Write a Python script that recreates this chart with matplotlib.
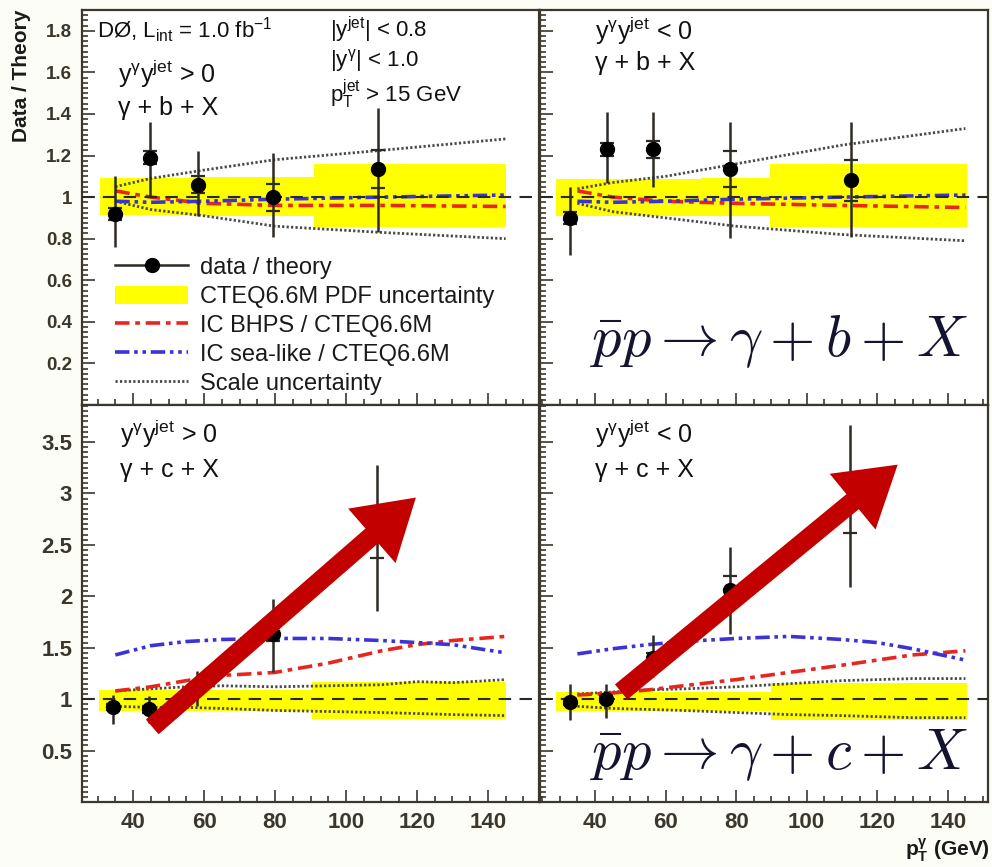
import matplotlib
matplotlib.use('Agg')
import matplotlib.pyplot as plt
from matplotlib.patches import FancyArrowPatch, Patch, ArrowStyle
from matplotlib.lines import Line2D
from matplotlib.ticker import MultipleLocator, FuncFormatter

plt.rcParams['font.family'] = ['Liberation Sans', 'DejaVu Sans']
plt.rcParams['mathtext.fontset'] = 'custom'
plt.rcParams['mathtext.rm'] = 'Liberation Sans'
plt.rcParams['mathtext.it'] = 'Liberation Sans:italic'
plt.rcParams['mathtext.bf'] = 'Liberation Sans:bold'

# ---------------- data ----------------
# gamma + b + X, y^g y^jet > 0
b_pos_x = [34.9, 44.8, 58.2, 79.5, 109.0]
b_pos_y = [0.92, 1.19, 1.06, 1.00, 1.135]
b_pos_lo = [0.16, 0.19, 0.15, 0.19, 0.305]
b_pos_hi = [0.18, 0.17, 0.16, 0.21, 0.295]
b_pos_stat = [0.03, 0.03, 0.04, 0.065, 0.09]
# gamma + b + X, y^g y^jet < 0
b_neg_x = [32.9, 43.4, 56.5, 78.4, 112.7]
b_neg_y = [0.90, 1.23, 1.23, 1.135, 1.08]
b_neg_lo = [0.18, 0.16, 0.18, 0.33, 0.27]
b_neg_hi = [0.15, 0.18, 0.18, 0.225, 0.28]
b_neg_stat = [0.03, 0.03, 0.04, 0.085, 0.10]
# gamma + c + X, y^g y^jet > 0
c_pos_x = [34.4, 44.5, 58.0, 79.3, 108.7]
c_pos_y = [0.92, 0.90, 1.10, 1.63, 2.60]
c_pos_lo = [0.16, 0.13, 0.17, 0.37, 0.74]
c_pos_hi = [0.12, 0.13, 0.17, 0.34, 0.68]
c_pos_stat = [0.03, 0.03, 0.05, 0.06, 0.23]
# gamma + c + X, y^g y^jet < 0
c_neg_x = [32.9, 43.2, 56.5, 78.2, 112.4]
c_neg_y = [0.97, 1.00, 1.40, 2.06, 2.90]
c_neg_lo = [0.17, 0.18, 0.18, 0.43, 0.81]
c_neg_hi = [0.18, 0.15, 0.22, 0.42, 0.77]
c_neg_stat = [0.03, 0.03, 0.05, 0.14, 0.28]

# theory curves
pt_b = [35, 45, 60, 80, 110, 145]
b_pos_scale_hi = [1.05, 1.09, 1.13, 1.18, 1.225, 1.28]
b_pos_scale_lo = [0.98, 0.94, 0.91, 0.86, 0.83, 0.80]
b_pos_bhps = [1.03, 1.00, 0.97, 0.96, 0.96, 0.955]
b_pos_sea = [0.98, 0.975, 0.98, 0.99, 1.00, 1.01]
b_neg_scale_hi = [1.04, 1.07, 1.10, 1.16, 1.25, 1.33]
b_neg_scale_lo = [0.97, 0.93, 0.90, 0.86, 0.82, 0.79]
b_neg_bhps = [1.03, 1.00, 0.98, 0.97, 0.96, 0.95]
b_neg_sea = [0.98, 0.975, 0.98, 0.99, 1.00, 1.01]

pt_c = [35, 45, 55, 65, 80, 95, 110, 120, 130, 145]
c_pos_sea = [1.43, 1.52, 1.56, 1.58, 1.59, 1.59, 1.57, 1.55, 1.53, 1.45]
c_pos_bhps = [1.08, 1.12, 1.18, 1.23, 1.26, 1.35, 1.47, 1.53, 1.57, 1.61]
c_pos_scale_hi = [1.08, 1.10, 1.12, 1.13, 1.12, 1.13, 1.14, 1.17, 1.16, 1.19]
c_pos_scale_lo = [0.93, 0.92, 0.92, 0.91, 0.89, 0.88, 0.87, 0.86, 0.85, 0.84]
c_neg_sea = [1.44, 1.49, 1.53, 1.56, 1.59, 1.61, 1.58, 1.55, 1.49, 1.38]
c_neg_bhps = [1.04, 1.06, 1.09, 1.13, 1.19, 1.26, 1.33, 1.38, 1.43, 1.47]
c_neg_scale_hi = [1.05, 1.07, 1.09, 1.10, 1.12, 1.15, 1.18, 1.19, 1.20, 1.20]
c_neg_scale_lo = [0.93, 0.91, 0.90, 0.89, 0.87, 0.85, 0.84, 0.83, 0.82, 0.82]

# PDF uncertainty bands (bin edges, low, high)
b_pos_pdf_edges = [30.7, 57, 91, 145.1]
b_pos_pdf_lo = [0.915, 0.91, 0.855]
b_pos_pdf_hi = [1.09, 1.095, 1.16]
b_neg_pdf_edges = [28.9, 70, 89.5, 145.4]
b_neg_pdf_lo = [0.91, 0.91, 0.855]
b_neg_pdf_hi = [1.087, 1.09, 1.16]
c_pos_pdf_edges = [30.5, 90.5, 145.1]
c_pos_pdf_lo = [0.88, 0.81]
c_pos_pdf_hi = [1.09, 1.165]
c_neg_pdf_edges = [28.9, 90, 145.4]
c_neg_pdf_lo = [0.88, 0.80]
c_neg_pdf_hi = [1.07, 1.155]

# red annotation arrows (tail, tip) in data coordinates
c_pos_arrow = [(45.4, 0.73), (119.7, 2.96)]
c_neg_arrow = [(47.4, 1.07), (125.8, 3.28)]

legend_labels = ['data / theory', 'CTEQ6.6M PDF uncertainty', 'IC BHPS / CTEQ6.6M',
                 'IC sea-like / CTEQ6.6M', 'Scale uncertainty']

# ---------------- style ----------------
YELLOW = '#ffff00'
RED = '#e8261e'
BLUE = '#3b33d6'
SCALE = '#4a4a44'
FRAME = '#3b372c'
ERR = '#2e2b24'
RED_LS = (0, (4, 1.6, 1.3, 1.6))
BLUE_LS = (0, (4, 1.3, 1.0, 1.3, 1.0, 1.3))
SCALE_LS = (0, (0.8, 0.8))

W, H = 992, 867
fig = plt.figure(figsize=(W / 100, H / 100), dpi=100, facecolor='#fdfdf7')


def rect(l, r, t, b):
    return [l / W, 1 - b / H, (r - l) / W, (b - t) / H]


axTL = fig.add_axes(rect(82, 539, 10, 405))
axTR = fig.add_axes(rect(540, 988, 10, 405))
axBL = fig.add_axes(rect(82, 539, 405, 802))
axBR = fig.add_axes(rect(540, 988, 405, 802))

panels = [
    (axTL, b_pos_x, b_pos_y, b_pos_lo, b_pos_hi, b_pos_stat, pt_b, b_pos_scale_hi, b_pos_scale_lo,
     b_pos_bhps, b_pos_sea, b_pos_pdf_edges, b_pos_pdf_lo, b_pos_pdf_hi),
    (axTR, b_neg_x, b_neg_y, b_neg_lo, b_neg_hi, b_neg_stat, pt_b, b_neg_scale_hi, b_neg_scale_lo,
     b_neg_bhps, b_neg_sea, b_neg_pdf_edges, b_neg_pdf_lo, b_neg_pdf_hi),
    (axBL, c_pos_x, c_pos_y, c_pos_lo, c_pos_hi, c_pos_stat, pt_c, c_pos_scale_hi, c_pos_scale_lo,
     c_pos_bhps, c_pos_sea, c_pos_pdf_edges, c_pos_pdf_lo, c_pos_pdf_hi),
    (axBR, c_neg_x, c_neg_y, c_neg_lo, c_neg_hi, c_neg_stat, pt_c, c_neg_scale_hi, c_neg_scale_lo,
     c_neg_bhps, c_neg_sea, c_neg_pdf_edges, c_neg_pdf_lo, c_neg_pdf_hi),
]

fmt = FuncFormatter(lambda v, p: '%g' % round(v, 3))

for (ax, x, y, lo, hi, st, pt, sh, sl, bh, sea, ed, plo, phi) in panels:
    ax.fill_between(ed, plo + [plo[-1]], phi + [phi[-1]], step='post', color=YELLOW, lw=0, zorder=1)
    ax.plot(pt, sh, color=SCALE, lw=2.0, ls=SCALE_LS, zorder=2)
    ax.plot(pt, sl, color=SCALE, lw=2.0, ls=SCALE_LS, zorder=2)
    ax.plot(pt, bh, color=RED, lw=2.6, ls=RED_LS, zorder=3)
    ax.plot(pt, sea, color=BLUE, lw=2.6, ls=BLUE_LS, zorder=3)
    ax.axhline(1.0, color='#2a2a22', lw=1.5, ls=(0, (6, 4)), zorder=4)
    ax.errorbar(x, y, yerr=[lo, hi], fmt='o', color=ERR, mfc='black', mec='black', ms=10,
                elinewidth=1.8, capsize=0, zorder=5)
    ax.errorbar(x, y, yerr=st, fmt='none', ecolor=ERR, elinewidth=0, capsize=5, capthick=1.6, zorder=5)
    for s in ax.spines.values():
        s.set_color(FRAME)
        s.set_linewidth(1.6)
    ax.set_facecolor('white')
    ax.tick_params(which='both', direction='in', top=False, right=False, colors=FRAME, width=1.2)
    ax.tick_params(which='major', length=9)
    ax.tick_params(which='minor', length=4.5)
    ax.xaxis.set_major_locator(MultipleLocator(20))
    ax.xaxis.set_minor_locator(MultipleLocator(5))
    ax.yaxis.set_major_formatter(fmt)
    ax.xaxis.set_major_formatter(fmt)

for ax in (axTL, axBL):
    ax.set_xlim(25.6, 154.4)
for ax in (axTR, axBR):
    ax.set_xlim(24.4, 151.4)
for ax in (axTL, axTR):
    ax.set_ylim(0, 1.9)
    ax.set_yticks([0.2, 0.4, 0.6, 0.8, 1.0, 1.2, 1.4, 1.6, 1.8])
    ax.yaxis.set_minor_locator(MultipleLocator(0.025))
    ax.tick_params(labelbottom=False)
for ax in (axBL, axBR):
    ax.set_ylim(0, 3.86)
    ax.set_yticks([0.5, 1.0, 1.5, 2.0, 2.5, 3.0, 3.5])
    ax.yaxis.set_minor_locator(MultipleLocator(0.05))
    ax.set_xticks([40, 60, 80, 100, 120, 140])
    ax.tick_params(axis='x', labelsize=16, pad=7)
    for lab in ax.get_xticklabels():
        lab.set_fontweight('bold')
for ax in (axTR, axBR):
    ax.tick_params(labelleft=False)
axTL.tick_params(axis='y', labelsize=13.5, pad=7)
axBL.tick_params(axis='y', labelsize=16, pad=7)
for ax in (axTL, axBL):
    for lab in ax.get_yticklabels():
        lab.set_fontweight('bold')

# arrows
for ax, (tail, tip) in ((axBL, c_pos_arrow), (axBR, c_neg_arrow)):
    arr = FancyArrowPatch(tail, tip, arrowstyle=ArrowStyle.Simple(head_length=42, head_width=52, tail_width=14),
                          mutation_scale=1, color='#c20000', lw=0, shrinkA=0, shrinkB=0, zorder=10)
    ax.add_patch(arr)

# texts
tk = dict(va='baseline', ha='left', fontsize=18, color='#111111')
tk2 = dict(va='baseline', ha='left', fontsize=16, color='#111111')
axTL.text(0.033, 0.929, r'DØ, L$_{\mathrm{int}}$ = 1.0 fb$^{\mathrm{-1}}$', transform=axTL.transAxes, **tk2)
axTL.text(0.543, 0.932, r'|y$^{\mathrm{jet}}$| < 0.8', transform=axTL.transAxes, **tk2)
axTL.text(0.543, 0.856, r'|y$^{\mathrm{γ}}$| < 1.0', transform=axTL.transAxes, **tk2)
axTL.text(0.543, 0.767, r'p$_{\mathrm{T}}^{\mathrm{jet}}$ > 15 GeV', transform=axTL.transAxes, **tk2)
axTL.text(0.079, 0.815, r'y$^{\mathrm{γ}}$y$^{\mathrm{jet}}$ > 0', transform=axTL.transAxes, **tk)
axTL.text(0.079, 0.734, 'γ + b + X', transform=axTL.transAxes, **tk)
axTR.text(0.123, 0.924, r'y$^{\mathrm{γ}}$y$^{\mathrm{jet}}$ < 0', transform=axTR.transAxes, **tk)
axTR.text(0.123, 0.848, 'γ + b + X', transform=axTR.transAxes, **tk)
axBL.text(0.083, 0.904, r'y$^{\mathrm{γ}}$y$^{\mathrm{jet}}$ > 0', transform=axBL.transAxes, **tk)
axBL.text(0.083, 0.819, 'γ + c + X', transform=axBL.transAxes, **tk)
axBR.text(0.123, 0.904, r'y$^{\mathrm{γ}}$y$^{\mathrm{jet}}$ < 0', transform=axBR.transAxes, **tk)
axBR.text(0.123, 0.819, 'γ + c + X', transform=axBR.transAxes, **tk)

big = dict(va='baseline', ha='left', fontsize=42, color='#141430', math_fontfamily='cm')
axTR.text(0.112, 0.125, r'$\bar{p}p \rightarrow \gamma + b + X$', transform=axTR.transAxes, **big)
axBR.text(0.112, 0.084, r'$\bar{p}p \rightarrow \gamma + c + X$', transform=axBR.transAxes, **big)

# legend
handles = [
    Line2D([0], [0], color=ERR, lw=1.8, marker='o', ms=10, mfc='black', mec='black'),
    Patch(facecolor=YELLOW, edgecolor='none'),
    Line2D([0], [0], color=RED, lw=2.6, ls=RED_LS),
    Line2D([0], [0], color=BLUE, lw=2.6, ls=BLUE_LS),
    Line2D([0], [0], color=SCALE, lw=2.0, ls=SCALE_LS),
]
axTL.legend(handles, legend_labels, loc='upper left', bbox_to_anchor=(0.072, 0.375), frameon=False,
            fontsize=17, handlelength=3.1, handleheight=0.8, handletextpad=0.5, labelspacing=0.28,
            borderpad=0, borderaxespad=0, labelcolor='#1a1a1a')

# axis titles
fig.text(22 / W, 1 - 10 / H, 'Data / Theory', rotation=90, ha='center', va='top', fontsize=15,
         fontweight='bold', color='#1a1a1a')
fig.text(990 / W, 1 - 850 / H, r'p$_{\mathbf{T}}^{\mathbf{γ}}$ (GeV)', ha='right', va='center', fontsize=15,
         fontweight='bold', color='#1a1a1a')

fig.savefig('out.png', dpi=100, facecolor=fig.get_facecolor())
